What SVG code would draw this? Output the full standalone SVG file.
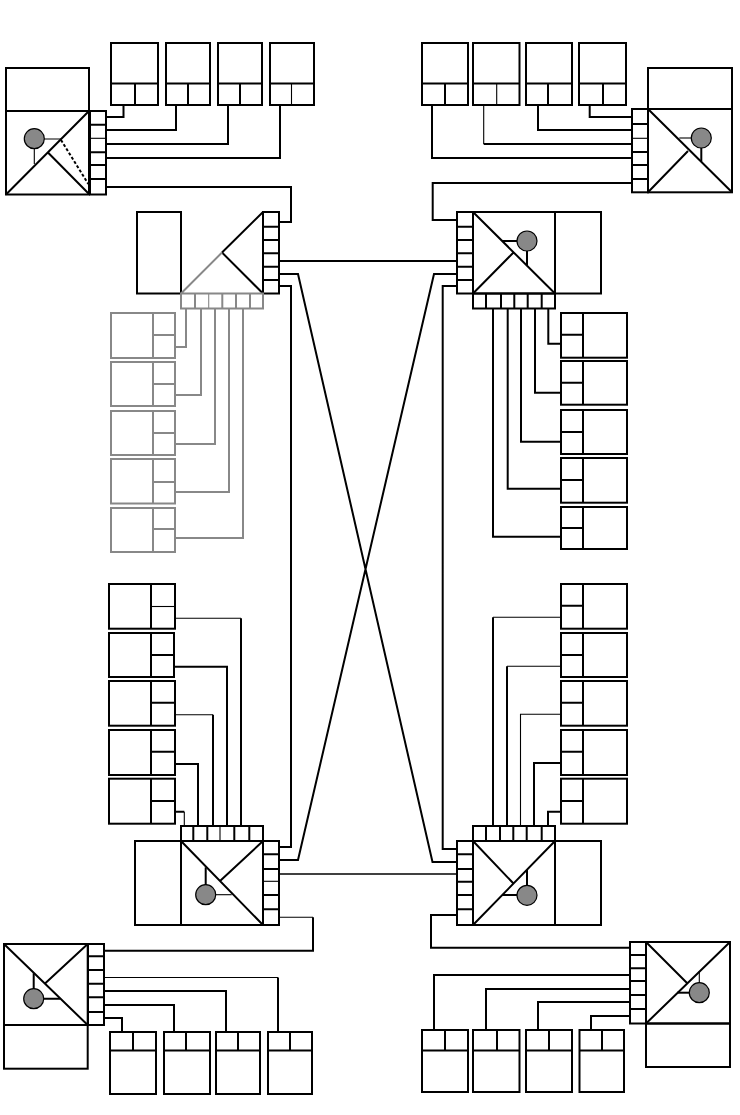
<svg xmlns="http://www.w3.org/2000/svg" width="740" height="1115" viewBox="0 0 740 1115">
<style>
rect,path,circle{fill:none;stroke:#000;stroke-width:2;stroke-linejoin:miter}
.t{stroke-width:1.1}
.m{stroke-width:1.6}
.g{stroke:#888}
.dot{fill:#888;stroke:#000;stroke-width:1.2}
.d{stroke-dasharray:3 2}
</style>
<rect width="740" height="1115" style="fill:#fff;stroke:none"/>
<g id="connectors">
<path d="M106 117H123.5V105M106 130H176V105M106 144H228V105M106 158H280V105"/>
<path d="M106 187H291V222H279"/>
<path class="g" d="M186 309V347H175M201 309V395H175M215 309V444H175M229 309V492H175M243 309V538H175"/>
<path d="M279 261H457M279 274H298L432.5 862H457M279 286H291V847H279M279 860H298L434 274H457M457 286H442.7V849H457"/>
<path class="m" d="M279 874H457"/>
<path d="M632 117H589.7V105M632 130H538V105M632 158H432V105"/>
<path class="t" d="M483.7 105V144"/><path d="M483.7 144H632"/>
<path d="M632 183H432.7V220H457"/>
<path d="M548.3 309V343.7H561M535 309V392.7H561M521 309V441.7H561M507.7 309V488.7H561M493 309V536.7H561"/>
<path class="t" d="M175 618.3H241"/><path d="M241 618.3V826M174 666.7H227V826"/><path class="t" d="M175 714.7H213"/><path d="M213 714.7V826M175 764H198V826M175 811.7H184.3"/><path class="t" d="M184.3 811.7V826"/>
<path class="t" d="M561 617.3H493"/><path d="M493 617.3V826"/><path class="t" d="M561 666.3H507"/><path d="M507 666.3V826"/><path class="t" d="M561 714.3H520.5V826"/><path d="M561 763H534V826M561 811.7H548V826"/>
<path class="t" d="M279 917.3H313"/><path d="M313 917.3V950.7H104"/>
<path d="M457 915H431V947.7H630"/>
<path d="M104 1018H122V1032M104 1005H174V1032M104 991H226V1032"/><path class="t" d="M104 977.5H278"/><path d="M278 977.5V1032"/>
<path d="M630 975H434V1030M630 989H486V1030M630 1002H538V1030M630 1016H591V1030"/>
</g>
<g id="shelf-tl">
<rect x="6" y="68" width="83" height="43"/><rect x="6" y="111" width="83" height="83.5"/>
<rect x="90" y="111" width="16" height="83.5"/><path d="M90 124.7H106M90 152.3H106M90 165H106M90 179H106"/><path class="t" d="M90 138.3H106"/>
<path d="M6 194.5L89 111M47.7 152.3L89 194"/><path class="d" d="M61 140L88.3 184"/>
<path class="t" d="M44 139H61M34.3 149V164"/><circle class="dot" cx="34.3" cy="138.7" r="10"/>
</g>
<g id="shelf-tr">
<rect x="648" y="68" width="84" height="41"/><rect x="648" y="109" width="84" height="83.3"/>
<rect x="632" y="109" width="16" height="83.3"/><path d="M632 124H648M632 152H648M632 165H648M632 179H648"/><path class="t" d="M632 138.3H648"/>
<path d="M648 109L732 192.3M648 192.3L688 151"/>
<path class="t" d="M679.3 138H691"/><path d="M701.3 148V161.7"/><circle class="dot" cx="701.3" cy="138" r="10"/>
</g>
<g id="shelf-bl">
<rect x="4" y="944" width="83.7" height="81"/><rect x="4" y="1025" width="83.7" height="43.7"/>
<rect x="88" y="944" width="16" height="81"/><path d="M88 956.3H104M88 970H104M88 983.7H104M88 997.3H104M88 1012H104"/>
<path d="M4 944L87.7 1025M87.7 944L45 983.5"/>
<path d="M33.7 989V973.3M44 998.7H60"/><circle class="dot" cx="33.7" cy="998.7" r="10"/>
</g>
<g id="shelf-br">
<rect x="646" y="942" width="84" height="81.5"/><rect x="646" y="1023.5" width="84" height="43.5"/>
<rect x="630" y="942" width="16" height="81.5"/><path d="M630 955H646M630 968.3H646M630 981H646M630 995H646M630 1009H646"/>
<path d="M646 1023.5L730 942M646 942L687 983"/>
<path d="M677 992.7H689"/><path class="t" d="M699.3 983V971"/><circle class="dot" cx="699.3" cy="992.7" r="10"/>
</g>
<g id="main-tl">
<rect x="137" y="212" width="44" height="81.5"/>
<rect x="263" y="212" width="16" height="81.5"/><path d="M263 226.7H279M263 240H279M263 253.3H279M263 266.7H279M263 280H279"/>
<path d="M222 252.5L263 212M222 252.5L263 293.5"/><path class="g" d="M181 293.5L222 252.5M181 293.5H263V308.5H181Z"/>
<path class="g" d="M195 293.5V308.5M222.3 293.5V308.5M236 293.5V308.5M250 293.5V308.5"/><path class="g t" d="M208.7 293.5V308.5"/>
</g>
<g id="main-tr">
<rect x="473" y="212" width="82" height="81.5"/><rect x="555" y="212" width="46" height="81.5"/>
<rect x="457" y="212" width="16" height="81.5"/><path d="M457 226.7H473M457 240H473M457 253.3H473M457 266.7H473M457 280H473"/>
<path d="M473 212L555 293.5M473 293.5L513 253"/>
<path d="M502 241H517M527 251V265"/><circle class="dot" cx="527" cy="241" r="10"/>
<rect x="473" y="293.5" width="82" height="15"/><path d="M486 293.5V308.5M501 293.5V308.5M514.3 293.5V308.5M527.7 293.5V308.5M541.7 293.5V308.5"/>
</g>
<g id="main-bl">
<rect x="135" y="841" width="46" height="84"/><rect x="181" y="841" width="82" height="84"/>
<rect x="263" y="841" width="16" height="84"/><path d="M263 854.3H279M263 869H279M263 895H279M263 909.3H279"/><path class="t" d="M263 881.3H279"/>
<path d="M181 841L263 925M263 841L220 881"/>
<path d="M205.7 885V867.3"/><path class="t" d="M216 894.7H231.7"/><circle class="dot" cx="205.7" cy="894.7" r="10"/>
<rect x="181" y="826" width="82" height="15"/><path d="M193.3 826V841M207.3 826V841M234.3 826V841M249.3 826V841"/><path class="t" d="M220 826V841"/>
</g>
<g id="main-br">
<rect x="473" y="841" width="82" height="84"/><rect x="555" y="841" width="46" height="84"/>
<rect x="457" y="841" width="16" height="84"/><path d="M457 854.3H473M457 869H473M457 881.7H473M457 895H473M457 909.3H473"/>
<path d="M473 925L555 841M473 841L513 883"/>
<path d="M527 885V870M517 895H502"/><circle class="dot" cx="527" cy="895.3" r="10"/>
<rect x="473" y="826" width="82" height="15"/><path d="M486 826V841M500 826V841M513.3 826V841M526.7 826V841M541.7 826V841"/>
</g>
<g id="top-left-drives">
<g id="tl1"><rect x="111" y="43" width="47" height="62"/><path d="M111 83.5H158M135 83.5V105"/></g>
<g id="tl2"><rect x="166" y="43" width="44" height="62"/><path d="M166 83.5H210M188 83.5V105"/></g>
<g id="tl3"><rect x="218" y="43" width="44" height="62"/><path d="M218 83.5H262M240 83.5V105"/></g>
<g id="tl4"><rect x="270" y="43" width="44" height="62"/><path d="M270 83.5H314"/><path class="t" d="M291.5 83.5V105"/></g>
</g>
<g id="top-right-drives">
<g id="tr1"><rect x="422" y="43" width="46" height="62"/><path d="M422 83.5H468M445 83.5V105"/></g>
<g id="tr2"><rect x="473" y="43" width="46.5" height="62"/><path d="M473 83.5H519.5"/><path class="t" d="M496.7 83.5V105"/></g>
<g id="tr3"><rect x="526" y="43" width="46" height="62"/><path d="M526 83.5H572M548 83.5V105"/></g>
<g id="tr4"><rect x="579" y="43" width="47" height="62"/><path d="M579 83.5H626M603 83.5V105"/></g>
</g>
<g id="gray-drives" class="g">
<g id="gl1"><rect class="g" x="111" y="313" width="64" height="45"/><path class="g" d="M153 313V358M153 335H175"/></g>
<g id="gl2"><rect class="g" x="111" y="362" width="64" height="44"/><path class="g" d="M153 362V406M153 384H175"/></g>
<g id="gl3"><rect class="g" x="111" y="411" width="64" height="44"/><path class="g" d="M153 411V455M153 433H175"/></g>
<g id="gl4"><rect class="g" x="111" y="459" width="64" height="44.5"/><path class="g" d="M153 459V503.5M153 482H175"/></g>
<g id="gl5"><rect class="g" x="111" y="508" width="64" height="44"/><path class="g" d="M153 508V552M153 529H175"/></g>
</g>
<g id="mid-right-drives">
<g id="mr1"><rect x="561" y="313" width="66" height="44.7"/><path d="M583 313V357.7M561 334.7H583"/></g>
<g id="mr2"><rect x="561" y="361" width="66" height="43.7"/><path d="M583 361V404.7M561 382.7H583"/></g>
<g id="mr3"><rect x="561" y="410" width="66" height="44"/><path d="M583 410V454M561 432H583"/></g>
<g id="mr4"><rect x="561" y="458" width="66" height="44.7"/><path d="M583 458V502.7M561 480H583"/></g>
<g id="mr5"><rect x="561" y="507" width="66" height="42"/><path d="M583 507V549M561 528H583"/></g>
</g>
<g id="low-left-drives">
<g id="ll1"><rect x="109" y="584" width="66" height="44.7"/><path d="M151 584V628.7"/><path class="t" d="M151 606.5H175"/></g>
<g id="ll2"><rect x="109" y="633" width="65" height="44"/><path d="M151 633V677M151 655H174"/></g>
<g id="ll3"><rect x="109" y="681" width="66" height="44.7"/><path d="M151 681V725.7M151 702.7H175"/></g>
<g id="ll4"><rect x="109" y="730" width="66" height="45"/><path d="M151 730V775M151 751.7H175"/></g>
<g id="ll5"><rect x="109" y="778.7" width="66" height="45"/><path d="M151 778.7V823.7M151 801H175"/></g>
</g>
<g id="low-right-drives">
<g id="lr1"><rect x="561" y="584" width="66" height="44.7"/><path d="M583 584V628.7M561 605.7H583"/></g>
<g id="lr2"><rect x="561" y="633" width="66" height="44"/><path d="M583 633V677M561 655H583"/></g>
<g id="lr3"><rect x="561" y="681" width="66" height="44.7"/><path d="M583 681V725.7M561 702.7H583"/></g>
<g id="lr4"><rect x="561" y="730" width="66" height="45"/><path d="M583 730V775M561 751.7H583"/></g>
<g id="lr5"><rect x="561" y="778.7" width="66" height="45"/><path d="M583 778.7V823.7M561 801H583"/></g>
</g>
<g id="bottom-left-drives">
<g id="bl1"><rect x="110" y="1032" width="46" height="62"/><path d="M110 1050.5H156M133 1032V1050.5"/></g>
<g id="bl2"><rect x="164" y="1032" width="46" height="62"/><path d="M164 1050.5H210M186 1032V1050.5"/></g>
<g id="bl3"><rect x="216" y="1032" width="44" height="62"/><path d="M216 1050.5H260M238 1032V1050.5"/></g>
<g id="bl4"><rect x="268" y="1032" width="44" height="62"/><path d="M268 1050.5H312M290 1032V1050.5"/></g>
</g>
<g id="bottom-right-drives">
<g id="br1"><rect x="422" y="1030" width="46" height="62"/><path d="M422 1050.5H468M445 1030V1050.5"/></g>
<g id="br2"><rect x="473" y="1030" width="46.5" height="62"/><path d="M473 1050.5H519.5M497 1030V1050.5"/></g>
<g id="br3"><rect x="526" y="1030" width="46" height="62"/><path d="M526 1050.5H572M549 1030V1050.5"/></g>
<g id="br4"><rect x="579.5" y="1030" width="44.5" height="62"/><path d="M579.5 1050.5H624M602 1030V1050.5"/></g>
</g>
</svg>
